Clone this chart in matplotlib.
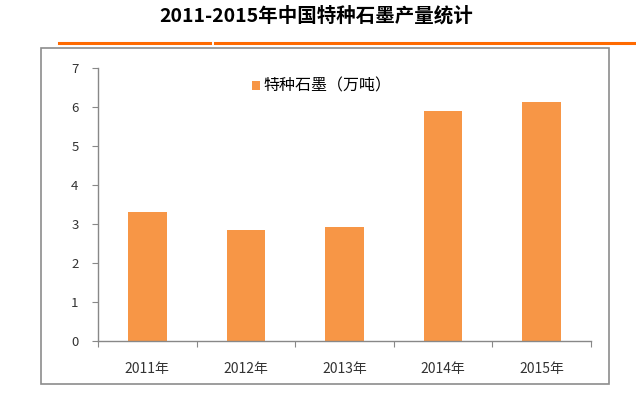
import matplotlib
matplotlib.use("Agg")
import matplotlib.pyplot as plt
import matplotlib.lines as mlines
import matplotlib.patches as mpatches

plt.rcParams['font.family'] = ['Noto Sans CJK SC', 'DejaVu Sans']

years = ['2011年', '2012年', '2013年', '2014年', '2015年']
output = [3.30, 2.85, 2.92, 5.90, 6.12]
legend_label = '特种石墨（万吨）'
title = '2011-2015年中国特种石墨产量统计'

bar_color = '#F79646'
axis_color = '#888888'

fig = plt.figure(figsize=(6.36, 3.99), dpi=100)
W, H = 636, 399

# outer frame around the chart
fig.patches.append(mpatches.Rectangle((41 / W, 1 - 384 / H), (609 - 41) / W, (384 - 48) / H,
                                      transform=fig.transFigure, fill=False,
                                      edgecolor='#8c8c8c', linewidth=1.2))

# orange rules under the title
for x0, x1 in [(59, 210), (215, 636)]:
    fig.lines.append(mlines.Line2D([x0 / W, x1 / W], [1 - 42.5 / H, 1 - 42.5 / H],
                                   transform=fig.transFigure, color='#FF6A00', linewidth=2.2))

fig.text(316 / W, 1 - 16 / H, title, ha='center', va='center', fontsize=14, fontweight='bold',
         color='black')

ax = fig.add_axes([98 / W, 1 - 341 / H, (591 - 98) / W, (341 - 68) / H])
ax.bar(range(len(years)), output, width=0.39, color=bar_color, label=legend_label)
ax.set_xlim(-0.5, len(years) - 0.5)
ax.set_ylim(0, 7)
ax.set_yticks(range(8))
ax.set_xticks([i - 0.5 for i in range(len(years) + 1)], minor=False)
ax.set_xticklabels([])
ax.set_xticks(range(len(years)), minor=True)
ax.set_xticklabels(years, minor=True)
ax.tick_params(axis='x', which='minor', length=0, pad=15, labelsize=10, labelcolor='#333333')
ax.tick_params(axis='x', which='major', length=4, color=axis_color, direction='out')
ax.tick_params(axis='y', length=4, color=axis_color, labelsize=9.5, labelcolor='#333333', pad=10)
for s in ['top', 'right']:
    ax.spines[s].set_visible(False)
for s in ['left', 'bottom']:
    ax.spines[s].set_color(axis_color)
    ax.spines[s].set_linewidth(1.0)

ax.legend(loc='center left', bbox_to_anchor=(0.3, 0.933), frameon=False, fontsize=11.5,
          handlelength=0.5, handleheight=0.5, handletextpad=0.2, borderaxespad=0)

fig.savefig('out.png', dpi=100)
